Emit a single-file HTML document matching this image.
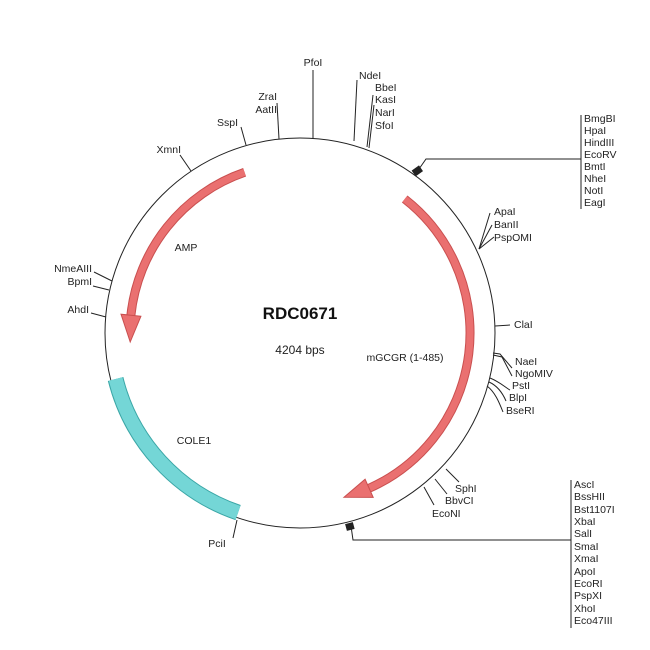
<!DOCTYPE html>
<html><head><meta charset="utf-8"><style>
body{margin:0;background:#fff}
svg{display:block}
text{font-family:"Liberation Sans",sans-serif;font-size:10.5px;fill:#222}
</style></head><body>
<svg width="650" height="650" viewBox="0 0 650 650" xmlns="http://www.w3.org/2000/svg">
<circle cx="300" cy="333" r="195" fill="none" stroke="#222" stroke-width="1"/>
<!-- COLE1 -->
<path d="M115.6,379 A190,190 0 0 0 238.1,512.6" fill="none" stroke="#3aa6a6" stroke-width="16"/>
<path d="M115.6,379 A190,190 0 0 0 238.1,512.6" fill="none" stroke="#74d6d6" stroke-width="14"/>
<!-- AMP -->
<path d="M244.6,172.3 A170,170 0 0 0 130.9,315.2" fill="none" stroke="#c94f4f" stroke-width="9"/>
<path d="M244.6,172.3 A170,170 0 0 0 130.9,315.2" fill="none" stroke="#ea7070" stroke-width="7"/>
<polygon points="140.9,316.3 121,314.2 130.2,341.9" fill="#ea7070" stroke="#c94f4f" stroke-width="1"/>
<!-- mGCGR -->
<path d="M404.7,199 A170,170 0 0 1 369.1,488.3" fill="none" stroke="#c94f4f" stroke-width="9"/>
<path d="M404.7,199 A170,170 0 0 1 369.1,488.3" fill="none" stroke="#ea7070" stroke-width="7"/>
<polygon points="365.1,479.2 373.2,497.4 344,497.2" fill="#ea7070" stroke="#c94f4f" stroke-width="1"/>
<!-- ticks -->
<g stroke="#222" stroke-width="1" fill="none">
<line x1="313" y1="138" x2="313" y2="70"/>
<line x1="354" y1="141" x2="357" y2="80"/>
<line x1="367" y1="147" x2="373" y2="95"/>
<line x1="369" y1="148" x2="374" y2="105"/>
<line x1="279" y1="139" x2="277" y2="103"/>
<line x1="246" y1="145" x2="241" y2="127"/>
<line x1="191" y1="171" x2="180" y2="155"/>
<line x1="479" y1="249" x2="490" y2="213"/>
<line x1="479" y1="249" x2="492" y2="225"/>
<line x1="479" y1="249" x2="494" y2="237"/>
<line x1="495" y1="326" x2="510" y2="325"/>
<path d="M493,353 L500,354 L512,368"/>
<path d="M493,355 L502,357 L512,376"/>
<path d="M490,378 C500,382 506,388 510,390"/>
<path d="M489,382 C498,386 503,394 506,401"/>
<path d="M487,386 C495,392 499,402 503,412"/>
<line x1="446" y1="469" x2="459" y2="482"/>
<line x1="435" y1="479" x2="447" y2="494"/>
<line x1="424" y1="487" x2="434" y2="505"/>
<line x1="237" y1="520" x2="233" y2="538"/>
<line x1="112" y1="281" x2="94" y2="272"/>
<line x1="109" y1="290" x2="93" y2="286"/>
<line x1="106" y1="317" x2="91" y2="313"/>
<path d="M419,169 L426,159 L581,159"/>
<line x1="581" y1="115" x2="581" y2="209"/>
<path d="M351,526 L353,540 L571,540"/>
<line x1="571" y1="480" x2="571" y2="628"/>
</g>
<rect x="413" y="167" width="9" height="7" fill="#222" transform="rotate(-35 418 171)"/>
<rect x="346" y="523" width="8" height="7" fill="#222" transform="rotate(-15 350 527)"/>
<!-- labels -->
<text x="313" y="66" text-anchor="middle">PfoI</text>
<text x="359" y="79">NdeI</text>
<text x="375" y="91">BbeI</text>
<text x="375" y="103">KasI</text>
<text x="375" y="116">NarI</text>
<text x="375" y="129">SfoI</text>
<text x="277" y="100" text-anchor="end">ZraI</text>
<text x="277" y="113" text-anchor="end">AatII</text>
<text x="238" y="126" text-anchor="end">SspI</text>
<text x="181" y="153" text-anchor="end">XmnI</text>
<text x="494" y="215">ApaI</text>
<text x="494" y="228">BanII</text>
<text x="494" y="241">PspOMI</text>
<text x="514" y="328">ClaI</text>
<text x="515" y="365">NaeI</text>
<text x="515" y="377">NgoMIV</text>
<text x="512" y="389">PstI</text>
<text x="509" y="401">BlpI</text>
<text x="506" y="414">BseRI</text>
<text x="455" y="492">SphI</text>
<text x="445" y="504">BbvCI</text>
<text x="432" y="517">EcoNI</text>
<text x="217" y="547" text-anchor="middle">PciI</text>
<text x="92" y="272" text-anchor="end">NmeAIII</text>
<text x="92" y="285" text-anchor="end">BpmI</text>
<text x="89" y="313" text-anchor="end">AhdI</text>
<g>
<text x="584" y="122">BmgBI</text>
<text x="584" y="134">HpaI</text>
<text x="584" y="146">HindIII</text>
<text x="584" y="158">EcoRV</text>
<text x="584" y="170">BmtI</text>
<text x="584" y="182">NheI</text>
<text x="584" y="194">NotI</text>
<text x="584" y="206">EagI</text>
</g>
<g>
<text x="574" y="488">AscI</text>
<text x="574" y="500">BssHII</text>
<text x="574" y="513">Bst1107I</text>
<text x="574" y="525">XbaI</text>
<text x="574" y="537">SalI</text>
<text x="574" y="550">SmaI</text>
<text x="574" y="562">XmaI</text>
<text x="574" y="575">ApoI</text>
<text x="574" y="587">EcoRI</text>
<text x="574" y="599">PspXI</text>
<text x="574" y="612">XhoI</text>
<text x="574" y="624">Eco47III</text>
</g>
<text x="300" y="319" text-anchor="middle" style="font-size:17px;font-weight:bold;fill:#111">RDC0671</text>
<text x="300" y="354" text-anchor="middle" style="font-size:12px">4204 bps</text>
<text x="186" y="251" text-anchor="middle">AMP</text>
<text x="405" y="361" text-anchor="middle">mGCGR (1-485)</text>
<text x="194" y="444" text-anchor="middle">COLE1</text>
</svg>
</body></html>
